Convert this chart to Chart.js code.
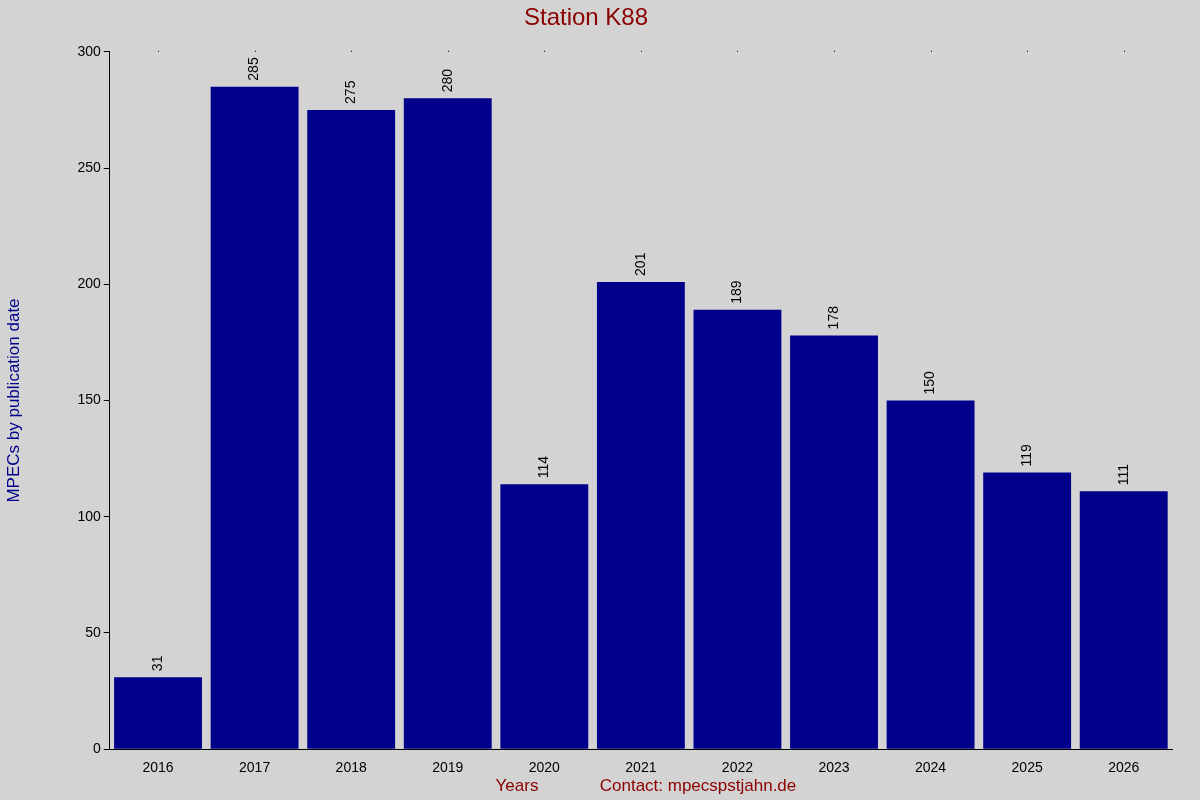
<!DOCTYPE html>
<html><head><meta charset="utf-8">
<script src="https://cdn.jsdelivr.net/npm/chart.js@4"></script>
<style>html,body{margin:0;background:#d3d3d3}#w{width:1200px;height:800px}</style>
</head><body><div id="w"><canvas id="c"></canvas></div>
<script>
const categories=['2016','2017','2018','2019','2020','2021','2022','2023','2024','2025','2026'];
const values=[31,285,275,280,114,201,189,178,150,119,111];
const yTicks=[0,50,100,150,200,250,300];
const F='"Liberation Sans", Arial, sans-serif';
const extras={id:'extras',afterDatasetsDraw(ch){
  const c=ch.ctx,m=ch.getDatasetMeta(0),x=ch.scales.x,a=ch.chartArea;
  c.save();c.fillStyle='#000';c.font='14px '+F;c.textAlign='left';c.textBaseline='middle';
  m.data.forEach((b,i)=>{c.save();c.translate(b.x,b.y-6);c.rotate(-Math.PI/2);c.fillText(values[i],0,0);c.restore();});
  categories.forEach((_,i)=>{c.fillRect(Math.round(x.getPixelForValue(i)),a.top-1,1,1);});
  c.textAlign='center';c.fillStyle='#8b0000';c.font='17px '+F;
  c.fillText('Years',517,786);c.fillText('Contact: mpecspstjahn.de',698,786);
  c.restore();}};
new Chart(document.getElementById('c'),{type:'bar',
 data:{labels:categories,datasets:[{data:values,backgroundColor:'#00008b',barPercentage:0.91,categoryPercentage:1}]},
 options:{responsive:true,maintainAspectRatio:false,animation:false,
  layout:{padding:{left:0,right:28,top:0,bottom:20}},
  plugins:{legend:{display:false},tooltip:{enabled:false},
   title:{display:true,text:'Station K88',color:'#8b0000',font:{family:F,size:24,weight:'normal'},padding:{top:4,bottom:19}}},
  scales:{
   x:{grid:{display:false,drawTicks:true},border:{color:'#000'},ticks:{color:'#000',font:{family:F,size:14},maxRotation:0}},
   y:{min:0,max:300,afterBuildTicks:s=>{s.ticks=yTicks.map(v=>({value:v}));},
      grid:{display:true,drawOnChartArea:false,drawTicks:true,tickLength:6,color:'#000'},border:{color:'#000'},
      ticks:{color:'#000',font:{family:F,size:14}},
      title:{display:true,text:'MPECs by publication date',color:'#00008b',font:{family:F,size:17},padding:{bottom:50}}}
  }},plugins:[extras]});
</script></body></html>
